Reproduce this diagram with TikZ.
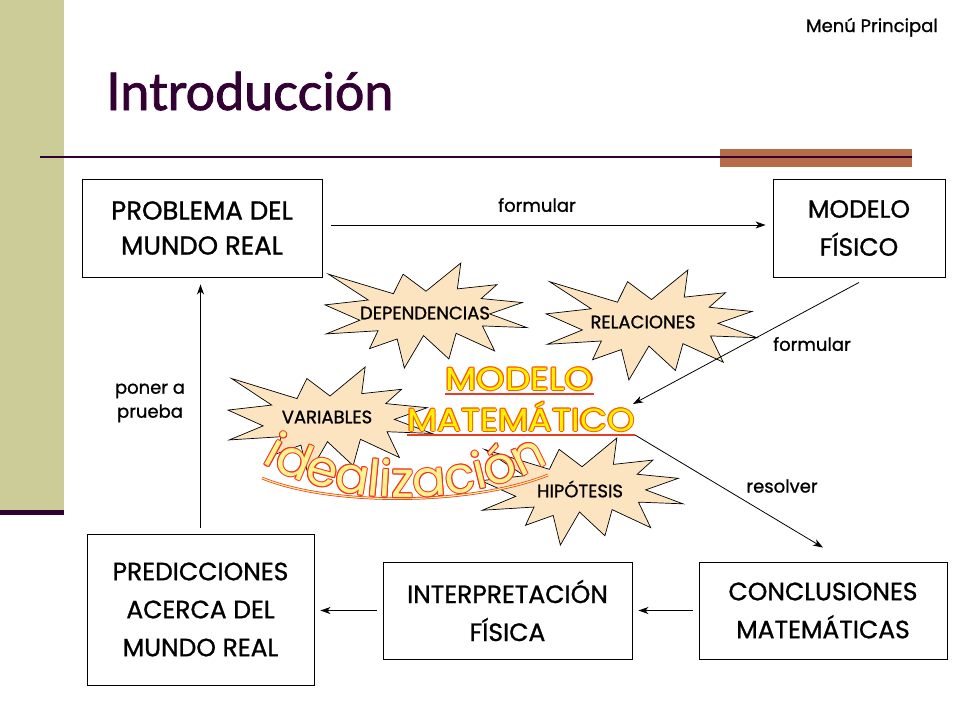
\documentclass[tikz,border=0pt]{standalone}
\usepackage{fontspec}
\setmainfont{Poppins}[FakeBold=1]
\newfontfamily\titlefont{Lato}[FakeBold=1.6]
\newfontfamily\wafont{Poppins}
\usetikzlibrary{arrows.meta,decorations.text}
\definecolor{band}{RGB}{204,204,153}
\definecolor{plum}{RGB}{51,0,51}
\definecolor{rust}{RGB}{184,107,71}
\definecolor{peach}{RGB}{252,228,192}
\definecolor{wyel}{RGB}{255,242,0}
\definecolor{wred}{RGB}{255,90,0}
\definecolor{ured}{RGB}{232,60,40}
\definecolor{iyel}{RGB}{255,242,140}
\definecolor{ired}{RGB}{240,50,30}
\newcommand\olcopy[4]{\rlap{\raisebox{#2}{\kern#1\textcolor{#3}{#4}}}}
\newcommand\olt[3]{%
 \olcopy{1pt}{0pt}{#1}{#3}\olcopy{-1pt}{0pt}{#1}{#3}\olcopy{0pt}{1pt}{#1}{#3}\olcopy{0pt}{-1pt}{#1}{#3}%
 \olcopy{.7pt}{.7pt}{#1}{#3}\olcopy{-.7pt}{.7pt}{#1}{#3}\olcopy{.7pt}{-.7pt}{#1}{#3}\olcopy{-.7pt}{-.7pt}{#1}{#3}%
 \textcolor{#2}{#3}}
\newcommand\idfont{\wafont\fontsize{50}{50}\selectfont}
\newcommand\seal[4]{%
 \begin{scope}[shift={(#1,#2)}, xscale=#3/100, yscale=#4/100]
 \filldraw[starshape] (50,26.85) -- (67.23,0) -- (65.53,24.65) -- (85.09,20.63) -- (77.32,33.87)
  -- (97.67,37.67) -- (81.51,48.50) -- (100,61.53) -- (77.95,59.92) -- (84.00,83.77)
  -- (64.91,66.93) -- (61.33,91.38) -- (48.76,69.14) -- (39.28,100) -- (35.72,72.35)
  -- (22.05,81.56) -- (26.24,64.52) -- (0.63,67.53) -- (17.23,54.51) -- (0,39.88)
  -- (21.42,35.26) -- (1.71,10.63) -- (33.85,29.26) -- (38.67,10.63) -- cycle;
 \end{scope}}
\tikzset{
 box/.style={draw=black, line width=0.9pt, align=center, inner sep=0pt},
 boxfont/.style={font=\fontsize{25}{38}\selectfont},
 starshape/.style={fill=peach, draw=black, line width=0.7pt, line join=miter},
 startxt/.style={font=\fontsize{18}{18}\selectfont, inner sep=0pt},
 lbl/.style={font=\fontsize{18}{24}\selectfont, inner sep=0pt, align=center},
 arr/.style={line width=0.8pt, -{Stealth[length=10pt,width=7pt,inset=3pt]}},
 wa/.style={anchor=base, inner sep=0pt, font=\wafont\fontsize{32}{32}\selectfont},
 ul/.style={draw=ured, line width=2.2pt}
}
\begin{document}
\begin{tikzpicture}[x=1pt,y=-1pt]
\useasboundingbox (0,0) rectangle (960,720);
\fill[white] (0,0) rectangle (960,720);
% slide decoration
\fill[band] (0,0) rectangle (64,510);
\fill[plum] (0,510) rectangle (64,515);
\fill[rust] (720,149) rectangle (912,167);
\draw[plum, line width=2pt] (40,157) -- (912,157);
\node[anchor=base west, inner sep=0pt, text=plum, font=\titlefont\fontsize{52}{52}\selectfont] (title) at (106,110) {Introducción};
\node[anchor=base east, inner sep=0pt, font=\fontsize{18}{18}\selectfont] (menu) at (938,32) {Menú Principal};
% boxes
\node[box, font=\fontsize{26}{35}\selectfont, minimum width=240pt, minimum height=98pt] (prob) at (202,228) {PROBLEMA DEL\\MUNDO REAL};
\node[box, boxfont, minimum width=172pt, minimum height=98pt] (mfis) at (859,228) {MODELO\\FÍSICO};
\node[box, boxfont, minimum width=227pt, minimum height=151pt] (pred) at (200.5,609.5) {PREDICCIONES\\ACERCA DEL\\MUNDO REAL};
\node[box, boxfont, minimum width=249pt, minimum height=97pt] (interp) at (507.5,610.5) {INTERPRETACIÓN\\FÍSICA};
\node[box, boxfont, minimum width=248pt, minimum height=97pt] (conc) at (823,610.5) {CONCLUSIONES\\MATEMÁTICAS};
% starbursts
\seal{325}{263}{202}{105}
\seal{546}{270}{211}{110}
\seal{228}{367}{204}{108}
\seal{481}{438}{202}{107}
\node[startxt] (sdep) at (425,313) {DEPENDENCIAS};
\node[startxt] (srel) at (643,322) {RELACIONES};
\node[startxt] (svar) at (327,417) {VARIABLES};
\node[startxt] (shyp) at (580,489) {HIPÓTESIS};
% WordArt
\node[wa] (wmod) at (519.5,390) {\scalebox{1.13}[1]{\olt{wred}{wyel}{MODELO}}};
\node[wa] (wmat) at (521,431) {\scalebox{1.1}[1]{\olt{wred}{wyel}{MATEMÁTICO}}};
\draw[ul] ([yshift=-4pt]wmod.base west) -- ([yshift=-4pt]wmod.base east);
\draw[ul] ([yshift=-4pt]wmat.base west) -- ([yshift=-4pt]wmat.base east);
\coordinate (rstart) at ([yshift=-4pt]wmat.base east);
\draw[ired, line width=0.7pt, double=iyel, double distance=1.2pt] (262,478) .. controls (330,506) and (470,506) .. (548,475);
\foreach \dx/\dy in {1/0,-1/0,0/1,0/-1,.7/.7,-.7/.7,.7/-.7,-.7/-.7}{
 \path[shift={(\dx,\dy)}, decorate, decoration={text along path, text align=center,
   text={|\idfont\color{ired}|idealización}}]
   (248,454) .. controls (330,512) and (480,512) .. (562,454);
}
\path[decorate, decoration={text along path, text align=center,
   text={|\idfont\color{iyel}|idealización}}]
   (248,454) .. controls (330,512) and (480,512) .. (562,454);
% connectors
\coordinate (fend) at (633,404);
\draw[arr] ([xshift=9pt,yshift=3pt]prob.east) -- ([xshift=-7pt,yshift=3pt]mfis.west);
\draw[arr] ([yshift=-5pt]mfis.south) -- (fend);
\draw[arr] (rstart) -- ([yshift=14pt]conc.north);
\draw[arr] ([xshift=-6pt]conc.west) -- ([xshift=6pt]interp.east);
\draw[arr] ([xshift=-6pt]interp.west) -- ([xshift=6pt]interp.west -| pred.east);
\draw[arr] ([yshift=6pt]pred.north) -- ([yshift=-7pt]pred.north |- prob.south);
% labels
\node[lbl] (lf1) at (537,205) {formular};
\node[lbl] (lf2) at (812,344) {formular};
\node[lbl] (lres) at (782,486) {resolver};
\node[lbl] (lpon) at (150,403) {poner a\\prueba};
\end{tikzpicture}
\end{document}
